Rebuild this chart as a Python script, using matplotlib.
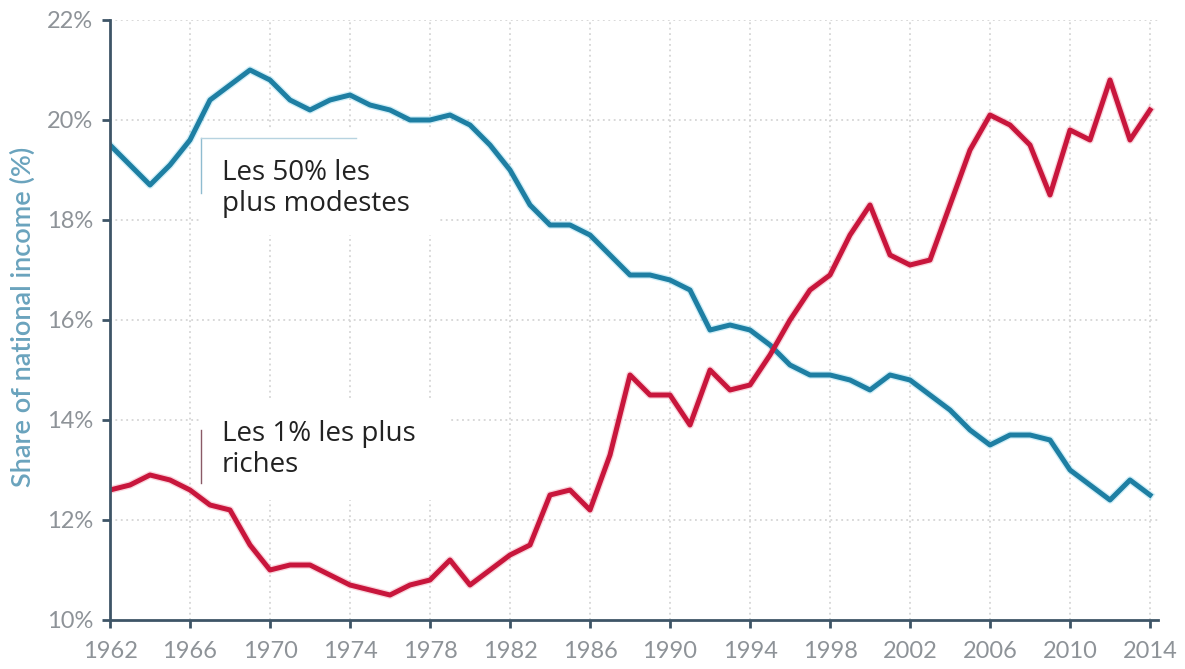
import matplotlib
matplotlib.use("Agg")
import matplotlib.pyplot as plt
from matplotlib.patches import Rectangle
import numpy as np

years = list(range(1962, 2015))
bottom50 = [19.5, 19.1, 18.7, 19.1, 19.6, 20.4, 20.7, 21.0, 20.8, 20.4,
            20.2, 20.4, 20.5, 20.3, 20.2, 20.0, 20.0, 20.1, 19.9, 19.5,
            19.0, 18.3, 17.9, 17.9, 17.7, 17.3, 16.9, 16.9, 16.8, 16.6,
            15.8, 15.9, 15.8, 15.5, 15.1, 14.9, 14.9, 14.8, 14.6, 14.9,
            14.8, 14.5, 14.2, 13.8, 13.5, 13.7, 13.7, 13.6, 13.0, 12.7,
            12.4, 12.8, 12.5]
top1 = [12.6, 12.7, 12.9, 12.8, 12.6, 12.3, 12.2, 11.5, 11.0, 11.1,
        11.1, 10.9, 10.7, 10.6, 10.5, 10.7, 10.8, 11.2, 10.7, 11.0,
        11.3, 11.5, 12.5, 12.6, 12.2, 13.3, 14.9, 14.5, 14.5, 13.9,
        15.0, 14.6, 14.7, 15.3, 16.0, 16.6, 16.9, 17.7, 18.3, 17.3,
        17.1, 17.2, 18.3, 19.4, 20.1, 19.9, 19.5, 18.5, 19.8, 19.6,
        20.8, 19.6, 20.2]
xticks = list(range(1962, 2015, 4))
yticks = [10, 12, 14, 16, 18, 20, 22]
ylabel = "Share of national income (%)"
label50 = "Les 50% les\nplus modestes"
label1 = "Les 1% les plus\nriches"

BLUE = "#1e7fa3"
RED = "#c8163c"
SPINE = "#3e5567"
TICKC = "#8e9398"

fig = plt.figure(figsize=(11.85, 6.69), dpi=100)
ax = fig.add_axes([110/1185, 1-620/669, 1048/1185, 600/669])

ax.set_xlim(1962, 2014.4)
ax.set_ylim(10, 22)

# grid
for xt in xticks:
    ax.plot([xt, xt], [10, 22], color="#d5d5d5", lw=1.3, ls=(0, (1, 2)), zorder=1)
for yt in yticks[1:]:
    ax.plot([1962, 2014.4], [yt, yt], color="#d5d5d5", lw=1.3, ls=(0, (1, 2)), zorder=1)

# white boxes behind annotations
ax.add_patch(Rectangle((1966.5, 17.7), 12.0, 2.1, facecolor="white", edgecolor="none", zorder=2))
ax.add_patch(Rectangle((1966.5, 12.4), 12.5, 2.0, facecolor="white", edgecolor="none", zorder=2))

# lines
ax.plot(years, bottom50, color="#7fd3ec", lw=5.5, alpha=0.35, zorder=3, solid_joinstyle="round")
ax.plot(years, bottom50, color=BLUE, lw=3.6, zorder=4, solid_joinstyle="round")
ax.plot(years, top1, color="#f08aa0", lw=5.5, alpha=0.35, zorder=3, solid_joinstyle="round")
ax.plot(years, top1, color=RED, lw=3.6, zorder=4, solid_joinstyle="round")

# callout lines
ax.plot([1966.55, 1966.55], [19.64, 18.55], color="#8fbcd0", lw=1.0, zorder=5)
ax.plot([1966.55, 1974.3], [19.64, 19.64], color="#b7d3e0", lw=1.0, zorder=5)
ax.plot([1966.55, 1966.55], [13.8, 12.75], color="#8a5a66", lw=1.0, zorder=5)

ax.text(1967.6, 19.22, label50, fontsize=20, family="Open Sans", color="#222222",
        va="top", ha="left", linespacing=1.15, zorder=6)
ax.text(1967.6, 14.0, label1, fontsize=20, family="Open Sans", color="#222222",
        va="top", ha="left", linespacing=1.15, zorder=6)

# spines
for s in ["top", "right"]:
    ax.spines[s].set_visible(False)
for s in ["left", "bottom"]:
    ax.spines[s].set_color(SPINE)
    ax.spines[s].set_linewidth(2)
    ax.spines[s].set_zorder(7)

ax.set_xticks(xticks)
ax.set_xticklabels([str(x) for x in xticks])
ax.set_yticks(yticks)
ax.set_yticklabels([f"{y}%" for y in yticks])
ax.tick_params(axis="both", colors=SPINE, width=2, length=6, labelcolor=TICKC,
               labelsize=17)
ax.tick_params(axis="x", pad=9)
ax.tick_params(axis="y", pad=6)
for lab in ax.get_xticklabels() + ax.get_yticklabels():
    lab.set_family("Lato")

ax.set_ylabel(ylabel, fontsize=19.5, family="Lato", fontweight="semibold",
              color="#6aa3bd")
ax.yaxis.set_label_coords(-0.071, 0.505)

fig.savefig("out.png", dpi=100, facecolor="white")
